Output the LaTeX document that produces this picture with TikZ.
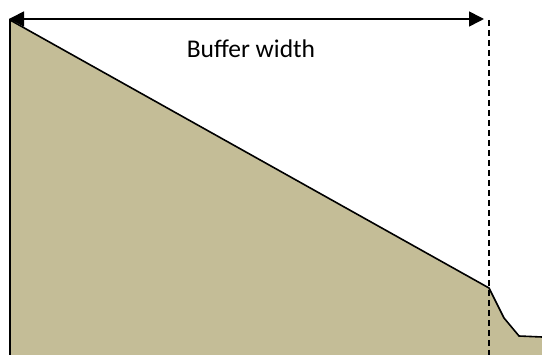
\documentclass[tikz,border=0pt]{standalone}
\usepackage{fontspec}
\setmainfont{Carlito}
\usetikzlibrary{arrows.meta,positioning}
\definecolor{sand}{HTML}{C4BD97}

\begin{document}
\begin{tikzpicture}[x=1pt,y=-1pt,line width=1.6pt]
    \useasboundingbox (0,0) rectangle (542,355);
    \coordinate (top) at (10,20);
    \coordinate (kink) at (489,288);
    \coordinate (toe) at (504,318);
    \coordinate (foot) at (519,336);
    \coordinate (edge) at (542,337);
    \fill[sand] (10,355) -- (top) -- (kink) -- (toe) -- (foot) -- (edge) -- (542,355) -- cycle;
    \draw (10,355) -- (top) -- (kink) -- (toe) -- (foot) -- (edge);
    \draw[dashed,dash pattern=on 6pt off 4pt] (489,20) -- (489,355);
    \coordinate (left) at (9,19);
    \coordinate (right) at (484,19);
    \draw[{Triangle[length=15pt,width=15pt]}-{Triangle[length=15pt,width=15pt]}] (left) -- (right);
    \node[font=\fontsize{25.5}{29}\selectfont] (label) at (251,49) {Buffer width};
  \end{tikzpicture}
\end{document}
